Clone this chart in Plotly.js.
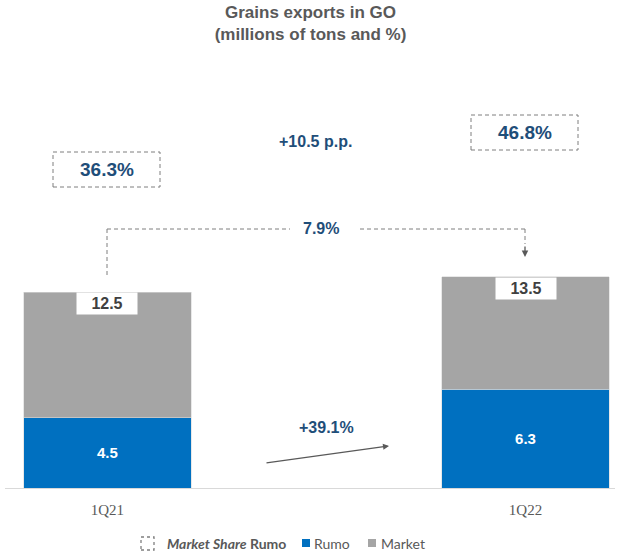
<!DOCTYPE html>
<html>
<head>
<meta charset="utf-8">
<script src="https://cdn.plot.ly/plotly-3.0.1.min.js"></script>
<style>html,body{margin:0;padding:0;background:#fff;}#chart{width:621px;height:554px;}</style>
</head>
<body>
<div id="chart"></div>
<script>
// ---- data ----
const categories = ["1Q21", "1Q22"];
const rumo = [4.5, 6.3];
const market = [8.0, 7.2];
const totals = [12.5, 13.5];
const marketShare = ["36.3%", "46.8%"];
const shareChange = "+10.5 p.p.";
const totalGrowth = "7.9%";
const rumoGrowth = "+39.1%";

// ---- layout helpers (pixel -> paper) ----
const W = 621, H = 554;
const M = {l: 5, r: 6, t: 60, b: 66};
const PW = W - M.l - M.r, PH = H - M.t - M.b;
const px = v => (v - M.l) / PW;
const py = v => (H - M.b - v) / PH;

const blueTxt = "#1F4E79";
const grayTxt = "#595959";
const sans = "Liberation Sans";

const traces = [
  {
    type: "bar", name: "Rumo", x: categories, y: rumo,
    marker: {color: "#0070C0", line: {color: "#d9d9d9", width: 0.6}},
    text: rumo.map(v => "<b>" + v.toFixed(1) + "</b>"),
    textposition: "inside", insidetextanchor: "middle",
    textfont: {color: "#ffffff", size: 15, family: sans},
    width: 0.4, hoverinfo: "skip"
  },
  {
    type: "bar", name: "Market", x: categories, y: market,
    marker: {color: "#A5A5A5", line: {color: "#d9d9d9", width: 0.6}},
    textposition: "none",
    width: 0.4, hoverinfo: "skip"
  }
];

const annotations = [];
const shapes = [];

function note(xp, yp, text, font, extra) {
  return Object.assign({xref: "paper", yref: "paper", x: px(xp), y: py(yp),
    xanchor: "center", yanchor: "middle", showarrow: false, text: text, font: font}, extra || {});
}

// total labels at top of bars
categories.forEach((c, i) => {
  annotations.push({
    x: c, y: totals[i], xref: "x", yref: "y", xanchor: "center", yanchor: "top",
    text: "<b>" + totals[i].toFixed(1) + "</b>", showarrow: false,
    bgcolor: "#ffffff", width: 58, height: 19, borderpad: 1,
    font: {size: 16, color: "#404040", family: sans}
  });
});

const dashStyle = "4px,3px";

// market share boxes
const shareBoxes = [[53, 160, 152, 187], [471, 578, 115, 150]];
shareBoxes.forEach((b, i) => {
  shapes.push({type: "rect", xref: "paper", yref: "paper",
    x0: px(b[0]), x1: px(b[1]), y0: py(b[3]), y1: py(b[2]),
    line: {color: "#7f7f7f", width: 1, dash: dashStyle}, fillcolor: "rgba(0,0,0,0)"});
  annotations.push(note((b[0]+b[1])/2, (b[2]+b[3])/2, "<b>" + marketShare[i] + "</b>",
    {size: 19, color: blueTxt, family: sans}));
});

annotations.push(note(315, 141, "<b>" + shareChange + "</b>",
  {size: 16, color: blueTxt, family: sans}));

// total growth connector
const dashLine = {color: "#7f7f7f", width: 1, dash: dashStyle};
const segs = [[107, 275, 107, 229], [107, 229, 290, 229], [360, 229, 525, 229], [525, 229, 525, 244]];
segs.forEach(s => shapes.push({type: "line", xref: "paper", yref: "paper",
  x0: px(s[0]), y0: py(s[1]), x1: px(s[2]), y1: py(s[3]), line: dashLine}));
annotations.push({xref: "paper", yref: "paper", x: px(525), y: py(257), ax: 0, ay: -12,
  text: "", showarrow: true, arrowhead: 2, arrowsize: 1, arrowwidth: 1.3, arrowcolor: "#595959"});
annotations.push(note(321, 229, "<b>" + totalGrowth + "</b>",
  {size: 16, color: blueTxt, family: sans}));

// rumo growth arrow
annotations.push({xref: "paper", yref: "paper", x: px(389), y: py(446),
  axref: "paper", ayref: "paper", ax: px(265), ay: py(463),
  text: "", showarrow: true, arrowhead: 2, arrowsize: 1, arrowwidth: 1.2, arrowcolor: "#595959"});
annotations.push(note(326, 427, "<b>" + rumoGrowth + "</b>",
  {size: 16, color: blueTxt, family: sans}));

// manual legend
const legY = 543;
shapes.push({type: "rect", xref: "paper", yref: "paper", x0: px(141), x1: px(154), y0: py(550), y1: py(537),
  line: {color: "#7f7f7f", width: 1.3, dash: "3px,3px"}});
shapes.push({type: "rect", xref: "paper", yref: "paper", x0: px(302), x1: px(310), y0: py(547), y1: py(539),
  line: {width: 0}, fillcolor: "#0070C0"});
shapes.push({type: "rect", xref: "paper", yref: "paper", x0: px(368), x1: px(376), y0: py(547), y1: py(539),
  line: {width: 0}, fillcolor: "#A5A5A5"});
const legFont = {size: 14, color: grayTxt, family: "Lato"};
annotations.push(note(165, legY, "<b><i>Market Share</i> Rumo</b>", legFont, {xanchor: "left"}));
annotations.push(note(312, legY, "Rumo", legFont, {xanchor: "left"}));
annotations.push(note(379, legY, "Market", legFont, {xanchor: "left"}));

const layout = {
  width: W, height: H,
  margin: M,
  paper_bgcolor: "#ffffff", plot_bgcolor: "#ffffff",
  barmode: "stack",
  showlegend: false,
  title: {text: "<b>Grains exports in GO<br>(millions of tons and %)</b>",
    font: {size: 17, color: grayTxt, family: sans},
    x: 0.5, xanchor: "center", y: 0.968, yanchor: "top", yref: "container"},
  xaxis: {type: "category", range: [-0.245, 1.214], showline: true, linecolor: "#d9d9d9", linewidth: 1,
    ticks: "", showgrid: false, zeroline: false, ticklabelstandoff: 8,
    tickfont: {size: 15, color: grayTxt, family: "Liberation Serif"}},
  yaxis: {range: [0, 27.35], visible: false, showgrid: false, zeroline: false},
  annotations: annotations,
  shapes: shapes
};

Plotly.newPlot("chart", traces, layout, {displayModeBar: false, staticPlot: true});
</script>
</body>
</html>
